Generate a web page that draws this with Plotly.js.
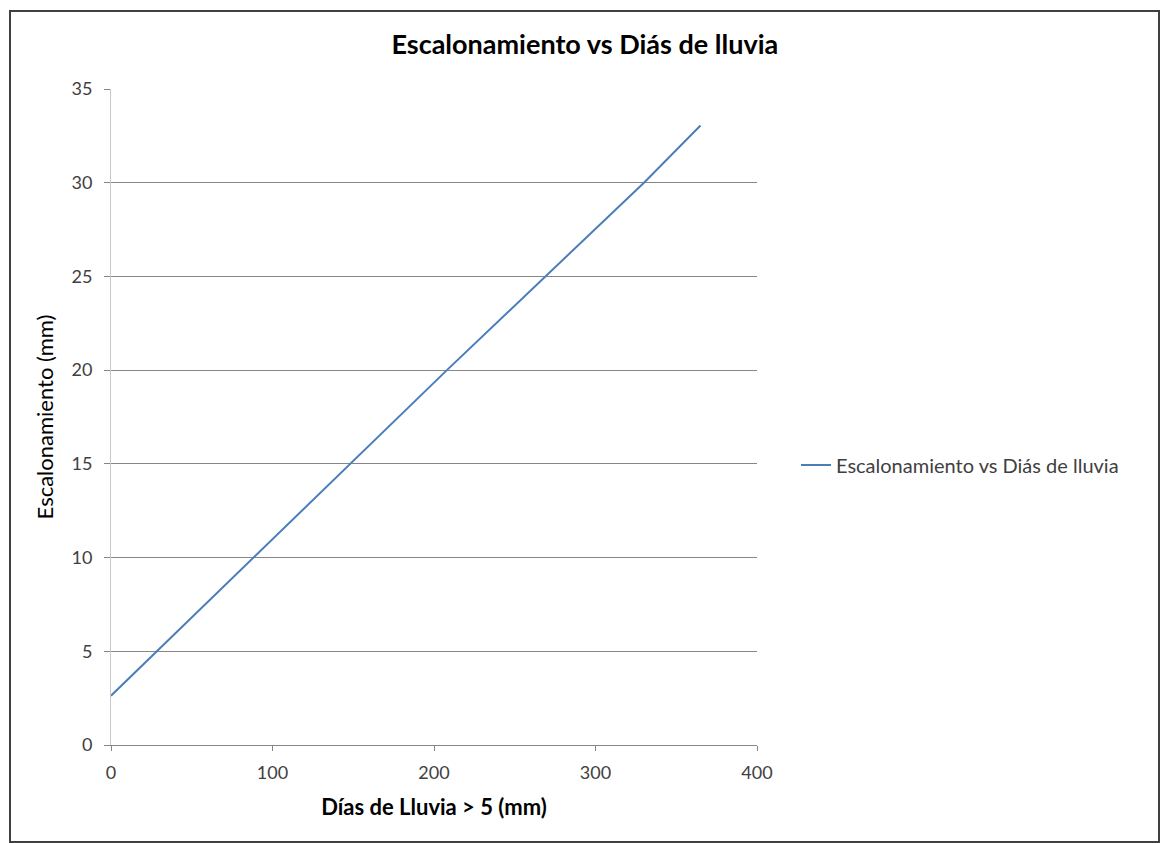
<!DOCTYPE html>
<html>
<head>
<meta charset="utf-8">
<script src="https://cdn.plot.ly/plotly-3.0.1.min.js"></script>
<style>
  html, body { margin: 0; padding: 0; background: #ffffff; }
  #chart { width: 1165px; height: 843px; }
</style>
</head>
<body>
<div id="chart"></div>
<script>
// Rainy days above 5 mm versus faulting (escalonamiento), in mm
const diasLluvia = [0, 88, 148, 208, 330, 365];
const escalonamiento = [2.63, 10, 15, 20, 30, 33.05];

const seriesName = 'Escalonamiento vs Diás de lluvia';
const chartTitle = 'Escalonamiento vs Diás de lluvia';
const xTitle = 'Días de Lluvia > 5 (mm)';
const yTitle = 'Escalonamiento (mm)';
const xTicks = [0, 100, 200, 300, 400];
const yTicks = [0, 5, 10, 15, 20, 25, 30, 35];

const FONT = 'Lato, "Open Sans", "DejaVu Sans", sans-serif';

const trace = {
  x: diasLluvia,
  y: escalonamiento,
  type: 'scatter',
  mode: 'lines',
  name: seriesName,
  showlegend: true,
  line: { color: '#4a7ebb', width: 2 }
};

const layout = {
  width: 1165,
  height: 843,
  margin: { l: 111, r: 408, t: 89, b: 98 },
  paper_bgcolor: '#ffffff',
  plot_bgcolor: '#ffffff',
  font: { family: FONT, size: 18, color: '#404040' },
  title: {
    text: chartTitle,
    font: { family: FONT, size: 27, color: '#000000', weight: 'bold' },
    x: 0.502, xanchor: 'center',
    y: 1 - 45 / 843, yanchor: 'middle'
  },
  xaxis: {
    range: [0, 400],
    tickvals: xTicks,
    ticktext: xTicks.map(String),
    showgrid: false,
    zeroline: false,
    showline: true,
    linecolor: '#868686',
    linewidth: 1,
    ticks: 'outside',
    ticklen: 5,
    tickcolor: '#868686',
    ticklabelstandoff: 6,
    tickfont: { family: FONT, size: 18, color: '#404040' },
    title: {
      text: xTitle,
      font: { family: FONT, size: 22, color: '#000000', weight: 'bold' },
      standoff: 18
    },
    automargin: false,
    fixedrange: true
  },
  yaxis: {
    range: [0, 35],
    tickvals: yTicks,
    ticktext: yTicks.map(String),
    showgrid: true,
    gridcolor: '#868686',
    gridwidth: 1,
    zeroline: false,
    showline: true,
    linecolor: '#c8c8c8',
    linewidth: 1,
    ticks: 'outside',
    ticklen: 6,
    tickcolor: '#868686',
    ticklabelstandoff: 8,
    tickfont: { family: FONT, size: 18, color: '#404040' },
    title: {
      text: yTitle,
      font: { family: FONT, size: 22, color: '#000000' },
      standoff: 11
    },
    automargin: false,
    fixedrange: true
  },
  legend: {
    x: (796 - 111) / 646,
    xanchor: 'left',
    y: (745 - 465) / 656,
    yanchor: 'middle',
    font: { family: FONT, size: 20, color: '#404040' },
    bgcolor: 'rgba(0,0,0,0)',
    itemwidth: 30,
    tracegroupgap: 0
  },
  shapes: [{
    type: 'rect',
    xref: 'paper', yref: 'paper',
    x0: (10 - 111) / 646, x1: (1159 - 111) / 646,
    y0: (745 - 842) / 656, y1: (745 - 11) / 656,
    line: { color: '#404040', width: 2 },
    fillcolor: 'rgba(0,0,0,0)',
    layer: 'below'
  }]
};

Plotly.newPlot('chart', [trace], layout, { displayModeBar: false, staticPlot: true });
</script>
</body>
</html>
